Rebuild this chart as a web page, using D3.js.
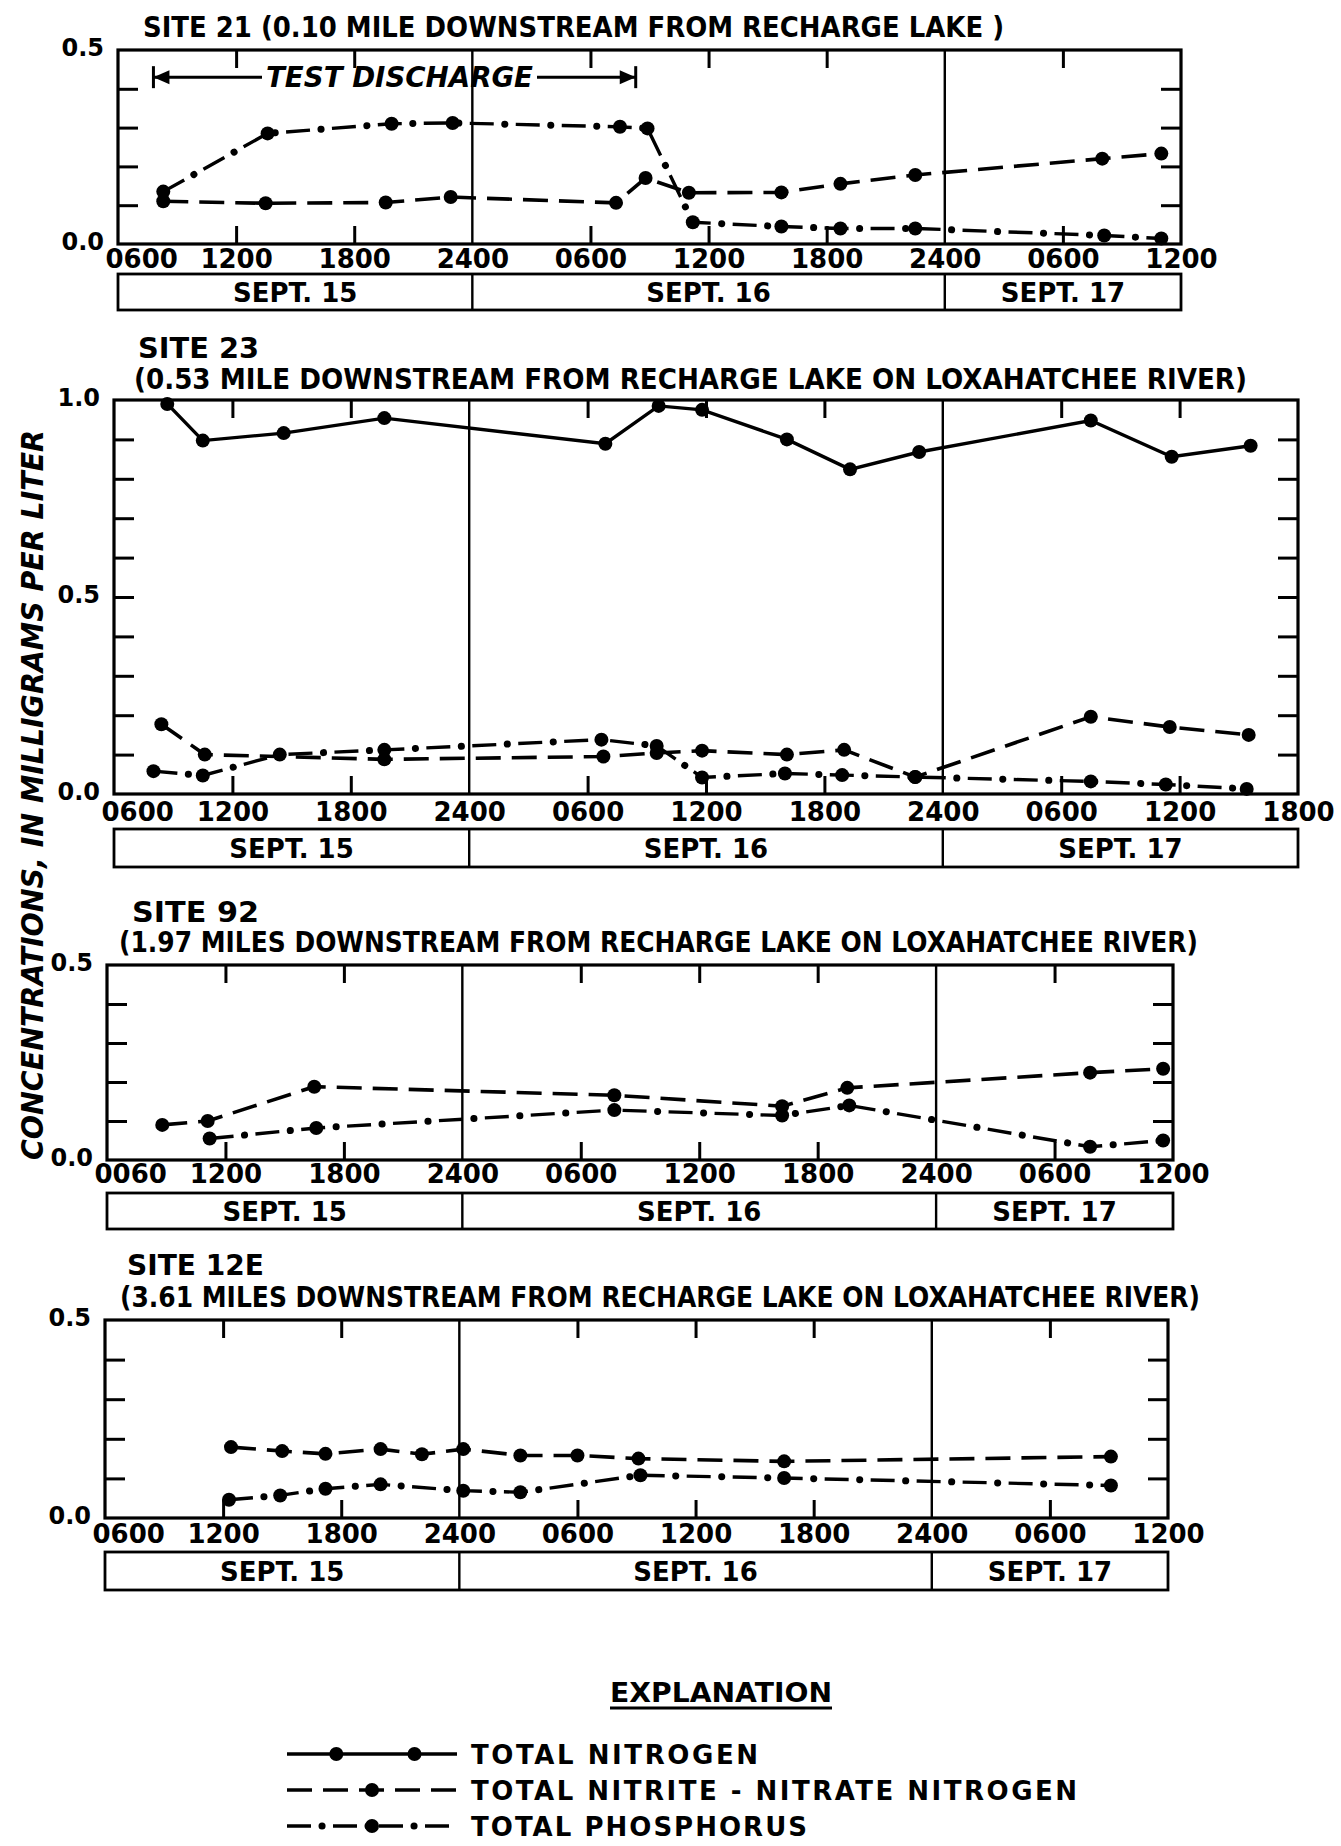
<!DOCTYPE html>
<html>
<head>
<meta charset="utf-8">
<script src="https://cdn.jsdelivr.net/npm/d3@7"></script>
<style>
    body { margin: 0; background: #fff; }
    svg text { font-family: "DejaVu Sans", sans-serif; font-weight: bold; fill: #000; }
</style>
</head>
<body>
<div id="chart"></div>
<script>
// time is in hours counted from 0600 Sept. 15
var dayLabels = ["SEPT. 15", "SEPT. 16", "SEPT. 17"];
var dayBreaks = [18, 42];
var ticks54 = ["0600", "1200", "1800", "2400", "0600", "1200", "1800", "2400", "0600", "1200"];
var ticks60 = ["0600", "1200", "1800", "2400", "0600", "1200", "1800", "2400", "0600", "1200", "1800"];
var ticks92 = ["0060", "1200", "1800", "2400", "0600", "1200", "1800", "2400", "0600", "1200"];
var legendLabels = ["TOTAL NITROGEN", "TOTAL NITRITE - NITRATE NITROGEN", "TOTAL PHOSPHORUS"];

var site21NitriteT = [2.3, 7.5, 13.6, 16.9, 25.3, 26.8, 29.0, 33.7, 36.7, 40.5, 50.0, 53.0];
var site21NitriteV = [0.11, 0.105, 0.107, 0.121, 0.106, 0.17, 0.132, 0.133, 0.155, 0.178, 0.22, 0.233];
var site21PhosT = [2.3, 7.6, 13.9, 17.0, 25.5, 26.9, 29.2, 33.7, 36.7, 40.5, 50.1, 53.0];
var site21PhosV = [0.135, 0.285, 0.31, 0.312, 0.302, 0.298, 0.056, 0.045, 0.04, 0.04, 0.022, 0.014];
var testDischarge = [1.8, 26.3];

var site23NitrogenT = [2.7, 4.5, 8.6, 13.7, 24.9, 27.6, 29.8, 34.1, 37.3, 40.8, 49.5, 53.6, 57.6];
var site23NitrogenV = [0.99, 0.897, 0.916, 0.954, 0.889, 0.985, 0.975, 0.9, 0.824, 0.868, 0.948, 0.856, 0.884];
var site23NitriteT = [2.4, 4.6, 13.7, 24.8, 27.5, 29.8, 34.1, 37.0, 40.6, 49.5, 53.5, 57.5];
var site23NitriteV = [0.177, 0.1, 0.088, 0.095, 0.104, 0.11, 0.1, 0.112, 0.043, 0.196, 0.17, 0.15];
var site23PhosT = [2.0, 4.5, 8.4, 13.7, 24.7, 27.5, 29.8, 34.0, 36.9, 40.6, 49.5, 53.3, 57.4];
var site23PhosV = [0.058, 0.047, 0.1, 0.112, 0.138, 0.122, 0.042, 0.052, 0.048, 0.043, 0.032, 0.024, 0.013];

var site92NitriteT = [2.8, 5.1, 10.5, 25.7, 34.2, 37.5, 49.8, 53.5];
var site92NitriteV = [0.09, 0.1, 0.188, 0.166, 0.138, 0.185, 0.224, 0.234];
var site92PhosT = [5.2, 10.6, 25.7, 34.2, 37.6, 49.8, 53.5];
var site92PhosV = [0.055, 0.082, 0.128, 0.114, 0.14, 0.034, 0.05];

var site12NitriteT = [6.4, 9.0, 11.2, 14.0, 16.1, 18.2, 21.1, 24.0, 27.1, 34.5, 51.1];
var site12NitriteV = [0.179, 0.169, 0.162, 0.174, 0.161, 0.174, 0.158, 0.158, 0.15, 0.143, 0.155];
var site12PhosT = [6.3, 8.9, 11.2, 14.0, 18.2, 21.1, 27.2, 34.5, 51.1];
var site12PhosV = [0.046, 0.057, 0.074, 0.085, 0.069, 0.065, 0.108, 0.101, 0.082];

function pairs(t, v) {
    return t.map(function (d, i) { return [d, v[i]]; });
}

var panels = [
    {
        hours: 54, ymax: 0.5, left: 118, right: 1181, top: 50, bottom: 244,
        labelY: 268, box: [274, 310], ticks: ticks54,
        titles: [{ text: "SITE 21 (0.10 MILE DOWNSTREAM FROM RECHARGE LAKE )", x: 143, y: 37, w: 861 }],
        series: [
            { kind: "nitrite", data: pairs(site21NitriteT, site21NitriteV) },
            { kind: "phos", data: pairs(site21PhosT, site21PhosV) }
        ],
        discharge: true
    },
    {
        hours: 60, ymax: 1.0, left: 114, right: 1298, top: 400, bottom: 794,
        labelY: 821, box: [829, 867], ticks: ticks60,
        titles: [
            { text: "SITE 23", x: 138, y: 358, w: 121 },
            { text: "(0.53 MILE DOWNSTREAM FROM RECHARGE LAKE ON LOXAHATCHEE RIVER)", x: 134, y: 389, w: 1113 }
        ],
        series: [
            { kind: "nitrogen", data: pairs(site23NitrogenT, site23NitrogenV) },
            { kind: "nitrite", data: pairs(site23NitriteT, site23NitriteV) },
            { kind: "phos", data: pairs(site23PhosT, site23PhosV) }
        ]
    },
    {
        hours: 54, ymax: 0.5, left: 107, right: 1173, top: 965, bottom: 1160,
        labelY: 1183, box: [1193, 1229], ticks: ticks92,
        titles: [
            { text: "SITE 92", x: 132, y: 922, w: 127 },
            { text: "(1.97 MILES DOWNSTREAM FROM RECHARGE LAKE ON LOXAHATCHEE RIVER)", x: 119, y: 952, w: 1079 }
        ],
        series: [
            { kind: "nitrite", data: pairs(site92NitriteT, site92NitriteV) },
            { kind: "phos", data: pairs(site92PhosT, site92PhosV) }
        ]
    },
    {
        hours: 54, ymax: 0.5, left: 105, right: 1168, top: 1320, bottom: 1518,
        labelY: 1543, box: [1552, 1590], ticks: ticks54,
        titles: [
            { text: "SITE 12E", x: 127, y: 1275, w: 137 },
            { text: "(3.61 MILES DOWNSTREAM FROM RECHARGE LAKE ON LOXAHATCHEE RIVER)", x: 120, y: 1307, w: 1080 }
        ],
        series: [
            { kind: "nitrite", data: pairs(site12NitriteT, site12NitriteV) },
            { kind: "phos", data: pairs(site12PhosT, site12PhosV) }
        ]
    }
];

var svg = d3.select("#chart").append("svg")
    .attr("width", 1341)
    .attr("height", 1846);

// one path per style; dash-dot is dashes plus a second path of round dots
function drawStyled(g, d, kind) {
    if (kind === "nitrogen") {
        g.append("path").attr("d", d).attr("fill", "none").attr("stroke", "#000").attr("stroke-width", 3.4);
    } else if (kind === "nitrite") {
        g.append("path").attr("d", d).attr("fill", "none").attr("stroke", "#000").attr("stroke-width", 3.6)
            .attr("stroke-dasharray", "25,11");
    } else {
        g.append("path").attr("d", d).attr("fill", "none").attr("stroke", "#000").attr("stroke-width", 3.4)
            .attr("stroke-dasharray", "24,22");
        g.append("path").attr("d", d).attr("fill", "none").attr("stroke", "#000").attr("stroke-width", 7)
            .attr("stroke-linecap", "round")
            .attr("stroke-dasharray", "0.1,45.9").attr("stroke-dashoffset", -35);
    }
}

function drawPanel(p) {
    var x = d3.scaleLinear().domain([0, p.hours]).range([p.left, p.right]);
    var y = d3.scaleLinear().domain([0, p.ymax]).range([p.bottom, p.top]);
    var g = svg.append("g");

    p.titles.forEach(function (t) {
        g.append("text")
            .attr("x", t.x).attr("y", t.y)
            .attr("textLength", t.w).attr("lengthAdjust", "spacingAndGlyphs")
            .style("font-size", "28px")
            .text(t.text);
    });

    // inner ticks on all four sides
    var inner = d3.range(6, p.hours, 6).filter(function (h) { return dayBreaks.indexOf(h) < 0; });
    var yInner = d3.range(1, Math.round(p.ymax * 10)).map(function (i) { return i / 10; });

    var tickAxes = [
        [d3.axisBottom(x).tickValues(inner).tickSize(-18), "translate(0," + p.bottom + ")"],
        [d3.axisTop(x).tickValues(inner).tickSize(-18), "translate(0," + p.top + ")"],
        [d3.axisLeft(y).tickValues(yInner).tickSize(-20), "translate(" + p.left + ",0)"],
        [d3.axisRight(y).tickValues(yInner).tickSize(-20), "translate(" + p.right + ",0)"]
    ];
    tickAxes.forEach(function (a) {
        var ag = g.append("g").attr("transform", a[1]).call(a[0].tickFormat(""));
        ag.select(".domain").remove();
        ag.selectAll("line").attr("stroke", "#000").attr("stroke-width", 3);
    });

    // frame and day dividers
    g.append("rect")
        .attr("x", p.left).attr("y", p.top)
        .attr("width", p.right - p.left).attr("height", p.bottom - p.top)
        .attr("fill", "none").attr("stroke", "#000").attr("stroke-width", 3.2);
    dayBreaks.forEach(function (h) {
        g.append("line")
            .attr("x1", x(h)).attr("x2", x(h))
            .attr("y1", p.top).attr("y2", p.bottom)
            .attr("stroke", "#000").attr("stroke-width", 2.4);
    });

    // time labels
    var labelAxis = d3.axisBottom(x)
        .tickValues(d3.range(0, p.hours + 1, 6))
        .tickSize(0)
        .tickFormat(function (d, i) { return p.ticks[i]; });
    var lg = g.append("g").attr("transform", "translate(0," + p.labelY + ")").call(labelAxis);
    lg.select(".domain").remove();
    lg.attr("font-family", null).attr("font-size", null);
    lg.selectAll("text").attr("y", 0).attr("dy", null).style("font-size", "26px");
    lg.selectAll("text").filter(function (d, i) { return i === 0; })
        .attr("text-anchor", "start").attr("x", -13);

    // concentration labels
    var vals = p.ymax === 1 ? [0, 0.5, 1] : [0, 0.5];
    var vAxis = d3.axisLeft(y).tickValues(vals).tickSize(0).tickPadding(14).tickFormat(d3.format(".1f"));
    var vg = g.append("g").attr("transform", "translate(" + p.left + ",0)").call(vAxis);
    vg.select(".domain").remove();
    vg.attr("font-family", null).attr("font-size", null);
    vg.selectAll("text").attr("dy", "0.3em").attr("y", -2).style("font-size", "24px");

    // date box
    var edges = [0].concat(dayBreaks, [p.hours]);
    g.append("rect")
        .attr("x", p.left).attr("y", p.box[0])
        .attr("width", p.right - p.left).attr("height", p.box[1] - p.box[0])
        .attr("fill", "none").attr("stroke", "#000").attr("stroke-width", 2.8);
    dayBreaks.forEach(function (h) {
        g.append("line")
            .attr("x1", x(h)).attr("x2", x(h))
            .attr("y1", p.box[0]).attr("y2", p.box[1])
            .attr("stroke", "#000").attr("stroke-width", 2.4);
    });
    dayLabels.forEach(function (lab, i) {
        g.append("text")
            .attr("x", (x(edges[i]) + x(edges[i + 1])) / 2)
            .attr("y", (p.box[0] + p.box[1]) / 2 + 10)
            .attr("text-anchor", "middle")
            .style("font-size", "26px")
            .text(lab);
    });

    // data
    var line = d3.line()
        .x(function (d) { return x(d[0]); })
        .y(function (d) { return y(d[1]); });
    p.series.forEach(function (s) {
        drawStyled(g, line(s.data), s.kind);
    });
    p.series.forEach(function (s) {
        g.selectAll(null).data(s.data).enter().append("circle")
            .attr("cx", function (d) { return x(d[0]); })
            .attr("cy", function (d) { return y(d[1]); })
            .attr("r", 7)
            .attr("fill", "#000");
    });

    if (p.discharge) {
        var x0 = x(testDischarge[0]), x1 = x(testDischarge[1]), yy = y(0.43);
        var tx0 = 266, tx1 = 533;
        g.append("line").attr("x1", x0).attr("x2", tx0 - 4).attr("y1", yy).attr("y2", yy)
            .attr("stroke", "#000").attr("stroke-width", 3);
        g.append("line").attr("x1", tx1 + 4).attr("x2", x1).attr("y1", yy).attr("y2", yy)
            .attr("stroke", "#000").attr("stroke-width", 3);
        [x0, x1].forEach(function (bx, i) {
            g.append("line").attr("x1", bx).attr("x2", bx).attr("y1", yy - 11).attr("y2", yy + 11)
                .attr("stroke", "#000").attr("stroke-width", 3);
            var dir = i === 0 ? 1 : -1;
            g.append("path")
                .attr("d", "M" + bx + "," + yy + "L" + (bx + dir * 16) + "," + (yy - 7) + "L" + (bx + dir * 16) + "," + (yy + 7) + "Z")
                .attr("fill", "#000");
        });
        g.append("text")
            .attr("x", tx0).attr("y", yy + 10)
            .attr("textLength", tx1 - tx0).attr("lengthAdjust", "spacingAndGlyphs")
            .style("font-size", "28px").style("font-style", "italic")
            .text("TEST DISCHARGE");
    }
}

panels.forEach(drawPanel);

// shared axis title
svg.append("text")
    .attr("transform", "translate(43,795) rotate(-90)")
    .attr("text-anchor", "middle")
    .attr("textLength", 730).attr("lengthAdjust", "spacingAndGlyphs")
    .style("font-size", "30px").style("font-style", "italic")
    .text("CONCENTRATIONS, IN MILLIGRAMS PER LITER");

// explanation
svg.append("text")
    .attr("x", 721).attr("y", 1702)
    .attr("text-anchor", "middle")
    .attr("textLength", 222).attr("lengthAdjust", "spacingAndGlyphs")
    .style("font-size", "27px")
    .text("EXPLANATION");
svg.append("line").attr("x1", 610).attr("x2", 832).attr("y1", 1708).attr("y2", 1708)
    .attr("stroke", "#000").attr("stroke-width", 3);

var legendKinds = ["nitrogen", "nitrite", "phos"];
var legendRows = [1754, 1790, 1826];
var legendWidths = [287, 606, 336];
var lx = d3.scaleLinear().domain([0, 1]).range([287, 457]);
legendKinds.forEach(function (k, i) {
    var pts = k === "nitrogen" ? [0.29, 0.75] : [0.5];
    var lg = svg.append("g");
    drawStyled(lg, "M" + lx(0) + "," + legendRows[i] + "H" + lx(1), k);
    pts.forEach(function (f) {
        lg.append("circle").attr("cx", lx(f)).attr("cy", legendRows[i]).attr("r", 7).attr("fill", "#000");
    });
    lg.append("text")
        .attr("x", 471).attr("y", legendRows[i] + 10)
        .attr("textLength", legendWidths[i]).attr("lengthAdjust", "spacing")
        .style("font-size", "26px")
        .text(legendLabels[i]);
});
</script>
</body>
</html>
